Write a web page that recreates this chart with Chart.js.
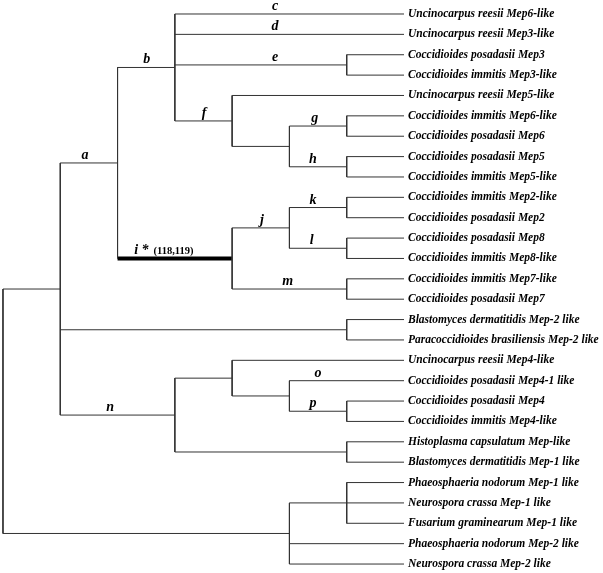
<!DOCTYPE html>
<html lang="en">
<head>
<meta charset="UTF-8" />
<title>Mep tree</title>
<style>
  html, body { margin: 0; padding: 0; background: #fff; }
  #wrap { width: 603px; height: 573px; position: relative; }
</style>
</head>
<body>
<div id="wrap"><canvas id="tree"></canvas></div>
<script src="https://cdn.jsdelivr.net/npm/chart.js"></script>
<script>
// tips, top to bottom (row index = y value)
const leaves = [
  "Uncinocarpus reesii Mep6-like",
  "Uncinocarpus reesii Mep3-like",
  "Coccidioides posadasii Mep3",
  "Coccidioides immitis Mep3-like",
  "Uncinocarpus reesii Mep5-like",
  "Coccidioides immitis Mep6-like",
  "Coccidioides posadasii Mep6",
  "Coccidioides posadasii Mep5",
  "Coccidioides immitis Mep5-like",
  "Coccidioides immitis Mep2-like",
  "Coccidioides posadasii Mep2",
  "Coccidioides posadasii Mep8",
  "Coccidioides immitis Mep8-like",
  "Coccidioides immitis Mep7-like",
  "Coccidioides posadasii Mep7",
  "Blastomyces dermatitidis Mep-2 like",
  "Paracoccidioides brasiliensis Mep-2 like",
  "Uncinocarpus reesii Mep4-like",
  "Coccidioides posadasii Mep4-1 like",
  "Coccidioides posadasii Mep4",
  "Coccidioides immitis Mep4-like",
  "Histoplasma capsulatum Mep-like",
  "Blastomyces dermatitidis Mep-1 like",
  "Phaeosphaeria nodorum Mep-1 like",
  "Neurospora crassa Mep-1 like",
  "Fusarium graminearum Mep-1 like",
  "Phaeosphaeria nodorum Mep-2 like",
  "Neurospora crassa Mep-2 like"
];
const tipDepth = 7;

// internal nodes: id, column (depth), children (leaf row or node id)
const nodes = [
  ["e", 6, [2, 3]],
  ["g", 6, [5, 6]],
  ["h", 6, [7, 8]],
  ["gh", 5, ["g", "h"]],
  ["f", 4, [4, "gh"]],
  ["b", 3, [0, 1, "e", "f"]],
  ["k", 6, [9, 10]],
  ["l", 6, [11, 12]],
  ["j", 5, ["k", "l"]],
  ["m", 6, [13, 14]],
  ["i", 4, ["j", "m"]],
  ["a", 2, ["b", "i"]],
  ["bp", 6, [15, 16]],
  ["p", 6, [19, 20]],
  ["op", 5, [18, "p"]],
  ["u4", 4, [17, "op"]],
  ["hb", 6, [21, 22]],
  ["n", 3, ["u4", "hb"]],
  ["in", 1, ["a", "bp", "n"]],
  ["m1", 6, [23, 24, 25]],
  ["out", 5, ["m1", 26, 27]],
  ["root", 0, ["in", "out"]]
];

// branch labels: text, branch (leaf row or node id), position along x, note
const branchLabels = [
  ["a", "a", 1.43],
  ["b", "b", 2.51],
  ["c", 0, 4.75],
  ["d", 1, 4.75],
  ["e", "e", 4.75],
  ["f", "f", 3.51],
  ["g", "g", 5.44],
  ["h", "h", 5.41],
  ["i *", "i", 2.29, "(118,119)"],
  ["j", "j", 4.52],
  ["k", "k", 5.41],
  ["l", "l", 5.39],
  ["m", "m", 4.97],
  ["n", "n", 1.87],
  ["o", 18, 5.5],
  ["p", "p", 5.41]
];
const boldBranch = "i"; // significant branch drawn thick

// positions of nodes
const nodeX = {}, nodeY = {};
const xOf = (k) => (typeof k === "number" ? tipDepth : nodeX[k]);
const yOf = (k) => (typeof k === "number" ? k : nodeY[k]);
nodes.forEach(([id, depth, kids]) => {
  nodeX[id] = depth;
  nodeY[id] = (yOf(kids[0]) + yOf(kids[kids.length - 1])) / 2;
});

// one line dataset per segment
const datasets = [];
function seg(x1, y1, x2, y2, thick) {
  datasets.push({
    data: [{ x: x1, y: y1 }, { x: x2, y: y2 }],
    showLine: true,
    borderColor: thick ? "#000" : "#333",
    borderWidth: thick ? 4 : 1,
    pointRadius: 0,
    clip: false
  });
}
nodes.forEach(([id, depth, kids]) => {
  seg(depth, yOf(kids[0]), depth, yOf(kids[kids.length - 1]));
  kids.forEach((k) => seg(depth, yOf(k), xOf(k), yOf(k), k === boldBranch));
});

const branchText = {
  id: "branchText",
  afterDatasetsDraw(chart) {
    const { ctx, scales } = chart;
    ctx.save();
    ctx.fillStyle = "#000";
    ctx.textBaseline = "alphabetic";
    branchLabels.forEach(([txt, target, at, note]) => {
      const px = scales.x.getPixelForValue(at);
      const py = scales.y.getPixelForValue(yOf(target)) - 4;
      ctx.font = "italic bold 14px 'Liberation Serif'";
      if (note) {
        ctx.textAlign = "left";
        ctx.fillText(txt, px, py);
        const w = ctx.measureText(txt).width;
        ctx.font = "bold 10.5px 'Liberation Serif'";
        ctx.fillText(note, px + w + 5, py);
      } else {
        ctx.textAlign = "center";
        ctx.fillText(txt, px, py);
      }
    });
    ctx.restore();
  }
};

new Chart(document.getElementById("tree"), {
  type: "scatter",
  data: { datasets },
  options: {
    responsive: true,
    maintainAspectRatio: false,
    animation: false,
    layout: { padding: 0 },
    plugins: { legend: { display: false }, tooltip: { enabled: false } },
    scales: {
      x: { type: "linear", min: -0.052, max: 7.0, display: false },
      y: {
        type: "linear",
        position: "right",
        reverse: true,
        min: -0.687,
        max: 27.44,
        grid: { display: false, drawTicks: false },
        border: { display: false },
        afterBuildTicks: (s) => {
          s.ticks = leaves.map((_, i) => ({ value: i }));
        },
        afterFit: (s) => {
          s.width = 199;
          s.paddingTop = 0;
          s.paddingBottom = 0;
        },
        ticks: {
          autoSkip: false,
          padding: 4,
          color: "#000",
          font: { family: "'Liberation Serif'", size: 11.5, style: "italic", weight: "bold" },
          callback: (v) => leaves[v]
        }
      }
    }
  },
  plugins: [branchText]
});
</script>
</body>
</html>
